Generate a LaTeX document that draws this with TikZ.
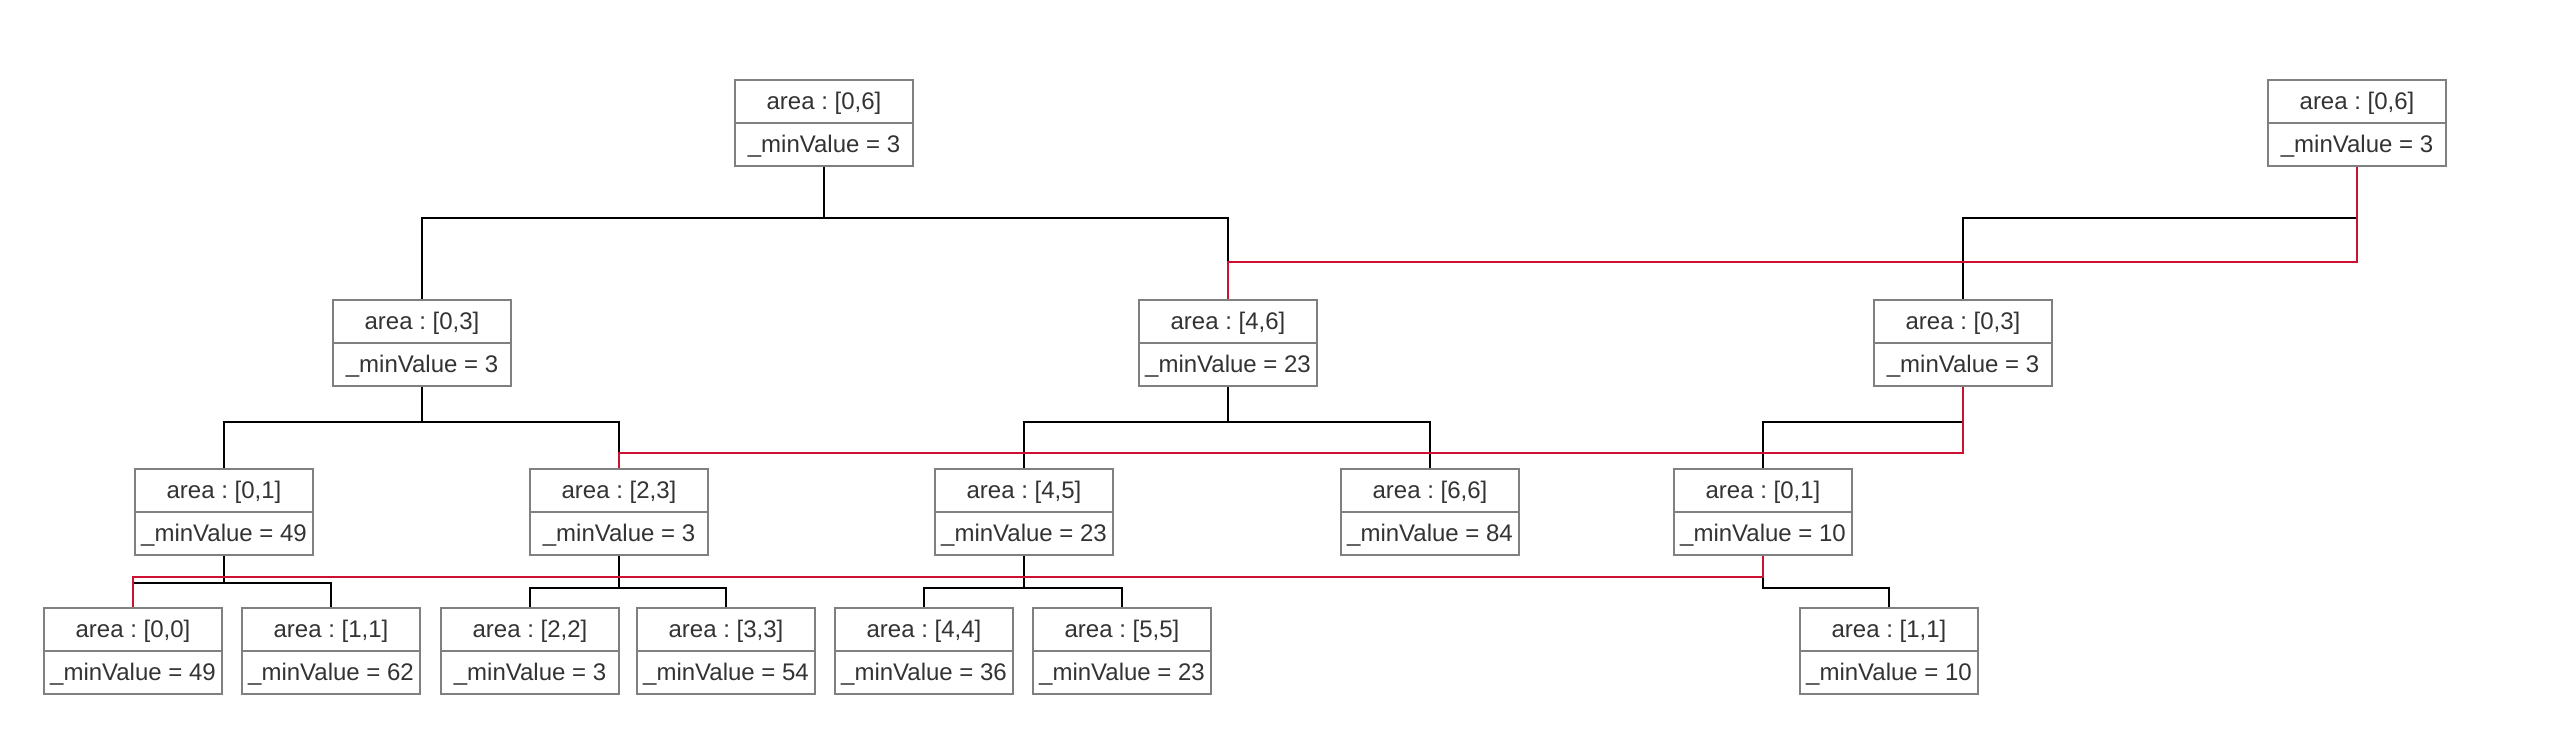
\documentclass[tikz,border=0pt]{standalone}
\usepackage{fontspec}
\setmainfont{Liberation Sans}
\frenchspacing
\definecolor{boxgray}{RGB}{128,128,128}
\definecolor{txtgray}{RGB}{51,51,51}
\definecolor{linkred}{RGB}{204,17,51}
\tikzset{
  box/.style={draw=boxgray, line width=0.6pt, fill=white, minimum width=53.4pt, minimum height=25.8pt, inner sep=0pt},
  divline/.style={draw=boxgray, line width=0.6pt},
  txt/.style={text=txtgray, inner sep=0pt, anchor=base, font=\fontsize{7.2}{8.6}\selectfont},
  conn/.style={draw=black, line width=0.55pt},
  redconn/.style={draw=linkred, line width=0.55pt},
}
\newcommand{\tnode}[5]{%
  \node[box] (#1) at (#2,#3) {};
  \draw[divline] (#1.west) -- (#1.east);
  \node[txt] (#1-a) at (#2,#3-13.5) {area : [#4]};
  \node[txt] (#1-m) at (#2,#3+29) {\_minValue = #5};
}
\begin{document}
\begin{tikzpicture}[x=0.3pt,y=-0.3pt]
\useasboundingbox (0,0) rectangle (2560,753);
% level 1
\tnode{root}{824}{123}{0,6}{3}
\tnode{rootR}{2357}{123}{0,6}{3}
% level 2
\tnode{la}{422}{343}{0,3}{3}
\tnode{lb}{1228}{343}{4,6}{23}
\tnode{lc}{1963}{343}{0,3}{3}
% level 3
\tnode{ma}{224}{512}{0,1}{49}
\tnode{mb}{619}{512}{2,3}{3}
\tnode{mc}{1024}{512}{4,5}{23}
\tnode{md}{1430}{512}{6,6}{84}
\tnode{me}{1763}{512}{0,1}{10}
% level 4
\tnode{na}{133}{651}{0,0}{49}
\tnode{nb}{331}{651}{1,1}{62}
\tnode{nc}{530}{651}{2,2}{3}
\tnode{nd}{726}{651}{3,3}{54}
\tnode{ne}{924}{651}{4,4}{36}
\tnode{nf}{1122}{651}{5,5}{23}
\tnode{ng}{1889}{651}{1,1}{10}
% black connectors
\draw[conn] (root.south) -- ++(0,51) -| (la.north);
\draw[conn] (root.south) -- ++(0,51) -| (lb.north);
\draw[conn] (rootR.south) -- ++(0,51) -| (lc.north);
\draw[conn] (la.south) -- ++(0,35) -| (ma.north);
\draw[conn] (la.south) -- ++(0,35) -| (mb.north);
\draw[conn] (lb.south) -- ++(0,35) -| (mc.north);
\draw[conn] (lb.south) -- ++(0,35) -| (md.north);
\draw[conn] (lc.south) -- ++(0,35) -| (me.north);
\draw[conn] (ma.south) -- ++(0,27) -| (na.north);
\draw[conn] (ma.south) -- ++(0,27) -| (nb.north);
\draw[conn] (mb.south) -- ++(0,32) -| (nc.north);
\draw[conn] (mb.south) -- ++(0,32) -| (nd.north);
\draw[conn] (mc.south) -- ++(0,32) -| (ne.north);
\draw[conn] (mc.south) -- ++(0,32) -| (nf.north);
\draw[conn] (me.south) -- ++(0,32) -| (ng.north);
% red connectors
\draw[redconn] (rootR.south) -- ++(0,95) -| (lb.north);
\draw[redconn] (lc.south) -- ++(0,66) -| (mb.north);
\draw[redconn] (me.south) -- ++(0,21) -| (na.north);
\end{tikzpicture}
\end{document}
